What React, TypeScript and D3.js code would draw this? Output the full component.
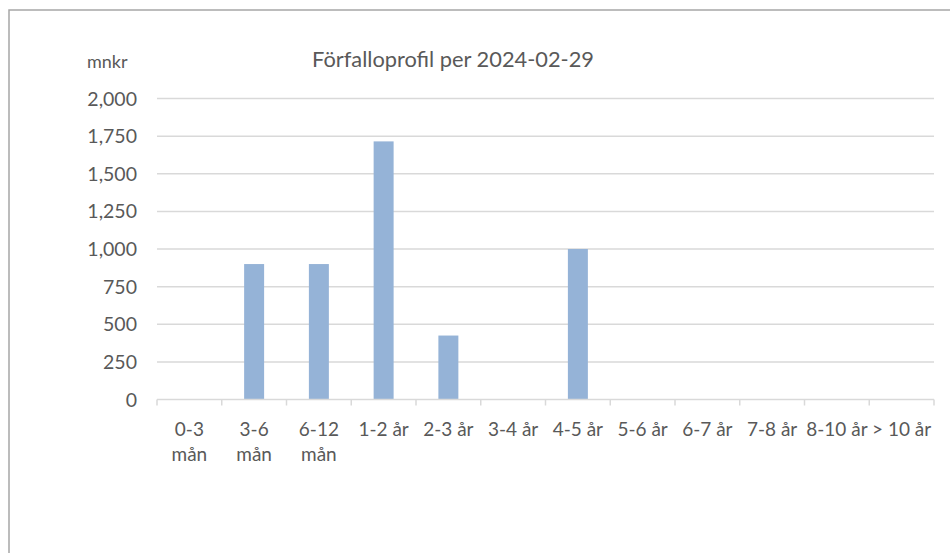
import React from "react";
import * as d3 from "d3";

const categories: string[] = [
  "0-3 mån", "3-6 mån", "6-12 mån", "1-2 år", "2-3 år", "3-4 år",
  "4-5 år", "5-6 år", "6-7 år", "7-8 år", "8-10 år", "> 10 år",
];
const categoryLines: string[][] = [
  ["0-3", "mån"], ["3-6", "mån"], ["6-12", "mån"], ["1-2 år"], ["2-3 år"], ["3-4 år"],
  ["4-5 år"], ["5-6 år"], ["6-7 år"], ["7-8 år"], ["8-10 år"], ["> 10 år"],
];
const values: number[] = [0, 900, 900, 1715, 425, 0, 1000, 0, 0, 0, 0, 0];
const yTicks: number[] = [0, 250, 500, 750, 1000, 1250, 1500, 1750, 2000];
const title = "Förfalloprofil per 2024-02-29";
const unitLabel = "mnkr";

const W = 950;
const H = 553;
const FONT = "Lato, 'Open Sans', sans-serif";
const TEXT = "#595959";
const GRID = "#d9d9d9";
const BAR = "#95b3d7";

export default function App() {
  const x = d3.scaleBand<string>().domain(categories).range([157, 934]).paddingInner(0).paddingOuter(0);
  const y = d3.scaleLinear().domain([0, 2000]).range([399.5, 98.5]);
  const step = x.step();
  const barW = step / 3.24;
  const fmt = d3.format(",");

  return (
    <svg width={W} height={H} style={{ position: "absolute", left: 0, top: 0 }} fontFamily={FONT}>
      <rect x={0} y={0} width={W} height={H} fill="#fff" />
      <rect x={9} y={10} width={W + 20} height={H + 20} fill="none" stroke="#a6a6a6" strokeWidth={1.5} />
      <text x={453} y={67} textAnchor="middle" fontSize={21.8} fill={TEXT}>{title}</text>
      <text x={87} y={68} fontSize={18} fill={TEXT}>{unitLabel}</text>
      {yTicks.map((t) => (
        <g key={t}>
          {t !== 0 && (
            <line x1={157} x2={934} y1={y(t)} y2={y(t)} stroke={GRID} strokeWidth={1.5} />
          )}
          <text x={137} y={y(t)} dy="0.36em" textAnchor="end" fontSize={19.5} fill={TEXT}>
            {fmt(t)}
          </text>
        </g>
      ))}
      {categories.map((c, i) => (
        <rect
          key={c}
          x={(x(c) as number) + step / 2 - barW / 2}
          y={y(values[i])}
          width={barW}
          height={y(0) - y(values[i])}
          fill={BAR}
        />
      ))}
      <line x1={157} x2={934} y1={y(0)} y2={y(0)} stroke={GRID} strokeWidth={1.5} />
      {[...categories.map((c) => x(c) as number), 934].map((tx, i) => (
        <line key={i} x1={tx} x2={tx} y1={y(0)} y2={y(0) + 6} stroke={GRID} strokeWidth={1.5} />
      ))}
      {categories.map((c, i) => (
        <text key={c} x={(x(c) as number) + step / 2} y={436} textAnchor="middle" fontSize={19} fill={TEXT}>
          {categoryLines[i].map((ln, j) => (
            <tspan key={j} x={(x(c) as number) + step / 2} dy={j === 0 ? 0 : 25}>{ln}</tspan>
          ))}
        </text>
      ))}
    </svg>
  );
}
